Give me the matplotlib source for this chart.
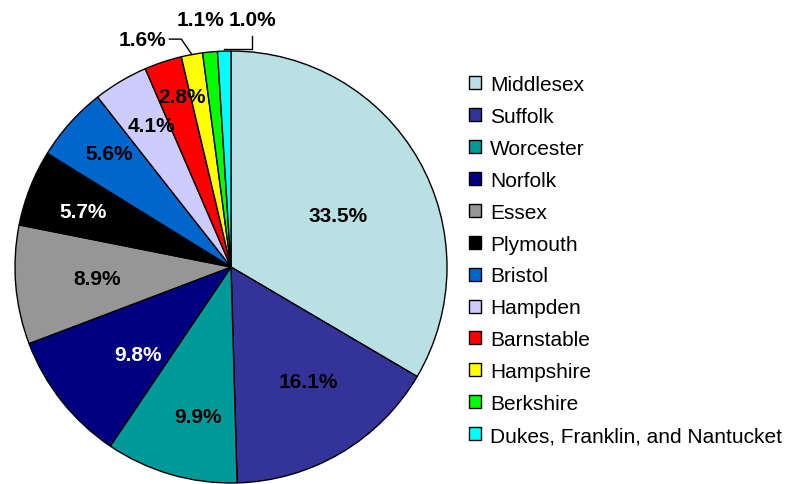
import numpy as np
import matplotlib.pyplot as plt

plt.rcParams['font.family'] = ['Liberation Sans', 'DejaVu Sans']

counties = ["Middlesex", "Suffolk", "Worcester", "Norfolk", "Essex", "Plymouth",
            "Bristol", "Hampden", "Barnstable", "Hampshire", "Berkshire",
            "Dukes, Franklin, and Nantucket"]
shares = [33.5, 16.1, 9.9, 9.8, 8.9, 5.7, 5.6, 4.1, 2.8, 1.6, 1.1, 1.0]
colours = ["#B9E0E3", "#333399", "#009999", "#000080", "#969696", "#000000",
           "#0066CC", "#CCCCFF", "#FF0000", "#FFFF00", "#00FF00", "#00FFFF"]
txt_colours = ["black", "black", "black", "white", "black", "white",
               "black", "black", "black", "black", "black", "black"]
# label distance (fraction of radius) and angular nudge in degrees;
# None = outside label with a leader line
label_r = [0.55, 0.64, 0.71, 0.59, 0.62, 0.73, 0.77, 0.75, 0.82, None, None, None]
label_shift = [-4.3, 3.4, 3.7, 5, 0, 1, -1, -1.5, -2.2, 0, 0, 0]
outside_pos = {9: (-0.41, 1.055), 10: (-0.14, 1.145), 11: (0.097, 1.145)}

fig = plt.figure(figsize=(7.87, 4.85), dpi=100)
ax = fig.add_axes([15 / 787, 1 / 485, 432 / 787, 432 / 485])

wedges, _ = ax.pie(shares, colors=colours, startangle=90, counterclock=False,
                   wedgeprops=dict(edgecolor="black", linewidth=1))
ax.set_xlim(-1, 1)
ax.set_ylim(-1, 1)
ax.set_aspect('equal')

for i, w in enumerate(wedges):
    mid = np.deg2rad((w.theta1 + w.theta2) / 2)
    lab = f"{shares[i]:.1f}%"
    if label_r[i] is not None:
        r = label_r[i]
        a = mid + np.deg2rad(label_shift[i])
        ax.text(r * np.cos(a), r * np.sin(a), lab, ha="center", va="center",
                fontsize=15, fontweight="bold", color=txt_colours[i])
    else:
        tx, ty = outside_pos[i]
        ax.text(tx, ty, lab, ha="center", va="center", fontsize=15,
                fontweight="bold", color="black")
        rx, ry = np.cos(mid), np.sin(mid)
        if i == 9:
            x0 = tx + 0.125
            pts = [(x0, ty), (x0 + 0.055, ty), (rx, ry)]
        elif i == 11:
            pts = [(tx, ty - 0.075), (tx, ry + 0.01), (rx, ry + 0.01)]
        else:
            continue
        xs, ys = zip(*pts)
        ax.plot(xs, ys, color="black", lw=1, clip_on=False)

fig.legend(wedges, counties, loc="center left",
           bbox_to_anchor=(469 / 787, (485 - 261) / 485),
           frameon=False, fontsize=15, handlelength=0.58, handleheight=0.58,
           handletextpad=0.42, labelspacing=0.62, borderpad=0, borderaxespad=0)

fig.savefig("out.png", dpi=100)
